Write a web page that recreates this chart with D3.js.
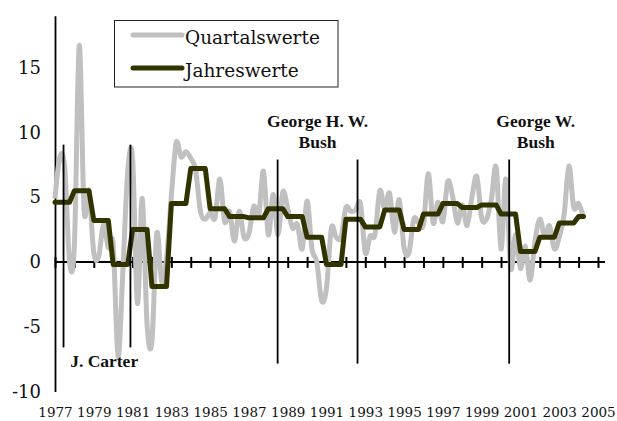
<!DOCTYPE html>
<html>
<head>
<meta charset="utf-8">
<script src="https://cdn.jsdelivr.net/npm/d3@7"></script>
<style>
  body { margin: 0; background: #fff; }
  svg { display: block; }
</style>
</head>
<body>
<svg id="chart" width="617" height="421"></svg>
<script>
// Wachstum des realen BIP (USA), annualisiert
const years = d3.range(1977, 2005);

const quarterly = [
  4.9, 8.1, 7.3, 0.0,    // 1977
  1.3, 16.7, 4.0, 5.5,   // 1978
  0.7, 0.4, 2.9, 1.1,    // 1979
  1.3, -7.3, -0.7, 7.0,  // 1980
  8.0, -3.2, 4.9, -4.9,  // 1981
  -6.1, 2.2, -1.5, 0.3,  // 1982
  5.1, 9.2, 8.1, 8.5,    // 1983
  8.0, 7.1, 3.9, 3.3,    // 1984
  3.8, 3.4, 6.4, 3.1,    // 1985
  3.9, 1.6, 3.9, 1.9,    // 1986
  2.2, 4.3, 3.5, 7.0,    // 1987
  2.1, 5.2, 2.1, 5.4,    // 1988
  4.1, 2.6, 2.9, 1.0,    // 1989
  4.7, 1.0, 0.0, -3.0,   // 1990
  -2.0, 2.6, 1.9, 1.9,   // 1991
  4.2, 3.9, 4.0, 4.5,    // 1992
  0.7, 2.0, 2.1, 5.5,    // 1993
  4.1, 5.3, 2.3, 4.8,    // 1994
  1.1, 0.7, 3.3, 3.0,    // 1995
  2.9, 6.8, 3.0, 4.6,    // 1996
  3.1, 6.2, 5.1, 3.0,    // 1997
  4.4, 2.8, 5.0, 6.6,    // 1998
  3.4, 3.3, 4.8, 7.3,    // 1999
  1.0, 6.4, -0.5, 2.1,   // 2000
  -0.5, 1.2, -1.4, 1.6,  // 2001
  3.3, 2.0, 2.8, 1.0,    // 2002
  1.9, 3.6, 7.4, 4.2,    // 2003
  4.5, 3.4               // 2004
];

const annual = [4.6, 5.5, 3.2, -0.2, 2.5, -1.9, 4.5, 7.2, 4.1, 3.5, 3.4, 4.1, 3.5, 1.9,
  -0.2, 3.3, 2.7, 4.0, 2.5, 3.7, 4.5, 4.2, 4.4, 3.7, 0.8, 1.9, 3.0, 3.5];

const yTicks = [-10, -5, 0, 5, 10, 15];
const xTicks = d3.range(1977, 2006);
const xLabels = d3.range(1977, 2006, 2);

// Amtsantritte (Lage der senkrechten Linien)
const termLines = [1977.44, 1980.89, 1988.48, 1992.6, 2000.42];
const termLabels = [
  { lines: ["J. Carter"], t: 1977.78, anchor: "start", top: false },
  { lines: ["George H. W.", "Bush"], t: 1990.54, anchor: "middle", top: true },
  { lines: ["George W.", "Bush"], t: 2001.79, anchor: "middle", top: true }
];

const svg = d3.select("#chart");
const x = d3.scaleLinear().domain([1977, 2005]).range([55, 598]);
const y = d3.scaleLinear().domain([-10, 19]).range([391.5, 15.7]);

const qPts = quarterly.map((v, i) => ({ t: 1977 + i / 4, v }));
const aPts = quarterly.map((_, i) => ({ t: 1977 + i / 4, v: annual[Math.floor(i / 4)] }));

// y-Achse
const yAxis = svg.append("g")
  .attr("transform", `translate(${x(1977)},0)`)
  .call(d3.axisLeft(y).tickValues(yTicks).tickFormat(d => String(d))
    .tickSize(0).tickSizeOuter(0).tickPadding(14));
yAxis.select(".domain").attr("stroke", "#000").attr("stroke-width", 1.8);
yAxis.selectAll("text")
  .attr("font-family", "DejaVu Serif").attr("font-size", 18).attr("fill", "#111");

// Jahreszahlen unten
const xLab = svg.append("g")
  .attr("transform", "translate(0,404)")
  .call(d3.axisBottom(x).tickValues(xLabels).tickFormat(d => String(d)).tickSize(0));
xLab.select(".domain").remove();
xLab.selectAll("text")
  .attr("font-family", "DejaVu Serif").attr("font-size", 13.5).attr("fill", "#111");

// Nulllinie mit Jahresstrichen
const xAxis = svg.append("g")
  .attr("transform", `translate(0,${y(0)})`)
  .call(d3.axisBottom(x).tickValues(xTicks).tickFormat("").tickSizeOuter(0));
xAxis.select(".domain").remove();
xAxis.selectAll(".tick line").attr("y1", -5).attr("y2", 6)
  .attr("stroke", "#000").attr("stroke-width", 2);
xAxis.append("line")
  .attr("x1", x(1977)).attr("x2", x(2005) + 7)
  .attr("stroke", "#000").attr("stroke-width", 2);

// Quartalswerte
svg.append("path")
  .datum(qPts)
  .attr("fill", "none")
  .attr("stroke", "#c0c0c0")
  .attr("stroke-width", 5)
  .attr("stroke-linejoin", "round")
  .attr("d", d3.line().x(d => x(d.t)).y(d => y(d.v)).curve(d3.curveCardinal.tension(0)));

// Jahreswerte
svg.append("path")
  .datum(aPts)
  .attr("fill", "none")
  .attr("stroke", "#333300")
  .attr("stroke-width", 5)
  .attr("stroke-linejoin", "round")
  .attr("stroke-linecap", "round")
  .attr("d", d3.line().x(d => x(d.t)).y(d => y(d.v)));

// senkrechte Linien
svg.selectAll(".term")
  .data(termLines)
  .join("line")
  .attr("class", "term")
  .attr("x1", d => x(d)).attr("x2", d => x(d))
  .attr("y1", (d, i) => i < 2 ? y(9.05) : y(7.9))
  .attr("y2", (d, i) => i < 2 ? y(-6.6) : y(-7.85))
  .attr("stroke", "#000")
  .attr("stroke-width", 1.8);

// Beschriftungen
termLabels.forEach(l => {
  const t = svg.append("text")
    .attr("x", x(l.t))
    .attr("y", l.top ? 126.5 : 367)
    .attr("text-anchor", l.anchor)
    .attr("font-family", "Liberation Serif")
    .attr("font-weight", "bold")
    .attr("font-size", 17.5)
    .attr("fill", "#111");
  l.lines.forEach((s, i) => {
    t.append("tspan").attr("x", x(l.t)).attr("dy", i === 0 ? 0 : 21.5).text(s);
  });
});

// Legende
const legend = svg.append("g");
legend.append("rect")
  .attr("x", 114.5).attr("y", 20.5).attr("width", 223.5).attr("height", 66.5)
  .attr("fill", "#fff").attr("stroke", "#222").attr("stroke-width", 1);
const items = [
  { name: "Quartalswerte", color: "#c0c0c0", ly: 35, ty: 44 },
  { name: "Jahreswerte", color: "#333300", ly: 68, ty: 77 }
];
items.forEach(it => {
  legend.append("line")
    .attr("x1", 133).attr("x2", 182).attr("y1", it.ly).attr("y2", it.ly)
    .attr("stroke", it.color).attr("stroke-width", 5).attr("stroke-linecap", "round");
  legend.append("text")
    .attr("x", 185).attr("y", it.ty)
    .attr("font-family", "DejaVu Serif").attr("font-size", 18.5).attr("fill", "#111")
    .text(it.name);
});
</script>
</body>
</html>
